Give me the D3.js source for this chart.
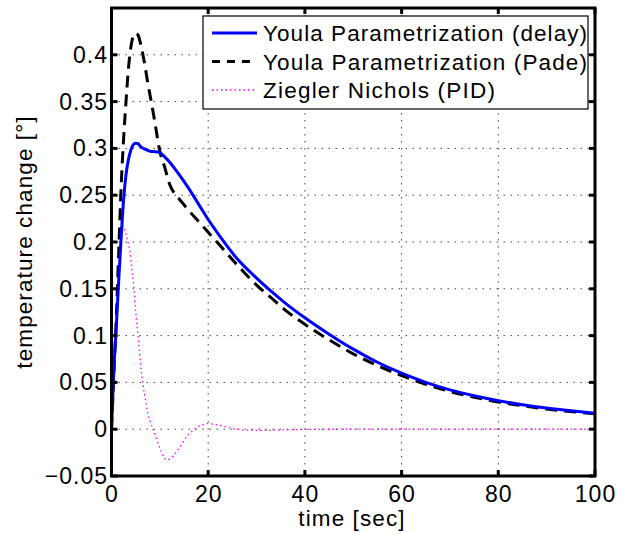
<!DOCTYPE html>
<html>
<head>
<meta charset="utf-8">
<script src="https://cdn.jsdelivr.net/npm/d3@7"></script>
<style>
  body { margin: 0; background: #fff; }
  text { font-family: "Liberation Sans", Arial, sans-serif; fill: #000; }
</style>
</head>
<body>
<svg width="627" height="534"></svg>
<script>
// data
var delayT = [0, 0.5, 1, 1.5, 2, 2.5, 3, 3.5, 4, 4.5, 5, 5.5, 6, 7, 8, 9, 10, 11, 12, 13, 14, 16, 18, 20, 23, 26, 30, 33, 36, 40, 45, 50, 55, 60, 65, 70, 75, 80, 85, 90, 95, 100];
var delayY = [0, 0.065, 0.11, 0.16, 0.205, 0.245, 0.272, 0.288, 0.298, 0.304, 0.3055, 0.305, 0.302, 0.299, 0.297, 0.2965, 0.2955, 0.291, 0.2855, 0.279, 0.272, 0.257, 0.2405, 0.224, 0.202, 0.182, 0.1615, 0.1475, 0.1345, 0.119, 0.1015, 0.0855, 0.0715, 0.0598, 0.05, 0.042, 0.0357, 0.0305, 0.0262, 0.0226, 0.0196, 0.017];

var padeT = [0, 0.5, 1, 1.5, 2, 2.5, 3, 3.5, 4, 4.5, 5, 5.5, 6, 6.5, 7, 7.5, 8, 8.5, 9, 9.5, 10, 11, 12, 13, 14, 16, 18, 20, 23, 26, 30, 33, 36, 40, 45, 50, 55, 60, 65, 70, 75, 80, 85, 90, 95, 100];
var padeY = [0, 0.06, 0.12, 0.19, 0.26, 0.31, 0.35, 0.385, 0.408, 0.42, 0.423, 0.421, 0.412, 0.4, 0.386, 0.37, 0.356, 0.342, 0.327, 0.311, 0.297, 0.28, 0.262, 0.252, 0.246, 0.2335, 0.222, 0.2105, 0.193, 0.1755, 0.154, 0.1405, 0.127, 0.112, 0.0955, 0.0805, 0.068, 0.0572, 0.048, 0.0403, 0.0342, 0.029, 0.025, 0.0215, 0.0188, 0.0165];

var pidT = [0, 0.5, 1, 1.5, 2, 2.4, 2.8, 3.3, 3.8, 4.2, 4.6, 5, 5.5, 6, 6.5, 7, 7.5, 8, 8.6, 9, 10, 11, 11.5, 12, 13, 14, 15, 16, 17, 18, 19, 20, 21, 22, 24, 26, 28, 30, 35, 40, 50, 60, 80, 100];
var pidY = [0, 0.06, 0.115, 0.165, 0.205, 0.217, 0.212, 0.202, 0.19, 0.172, 0.153, 0.126, 0.1, 0.07, 0.048, 0.032, 0.017, 0.008, 0, -0.006, -0.02, -0.031, -0.033, -0.032, -0.027, -0.02, -0.012, -0.005, -0.001, 0.003, 0.005, 0.006, 0.0055, 0.0045, 0.002, 0, -0.001, -0.0012, -0.0008, -0.0003, 0, 0, 0, 0];

var xTicks = [0, 20, 40, 60, 80, 100];
var yTicks = [-0.05, 0, 0.05, 0.1, 0.15, 0.2, 0.25, 0.3, 0.35, 0.4];
var seriesNames = ["Youla Parametrization (delay)", "Youla Parametrization (Pade)", "Ziegler Nichols (PID)"];

var svg = d3.select("svg");
var mLeft = 111.5, mRight = 595, mTop = 8, mBottom = 476;

var x = d3.scaleLinear().domain([0, 100]).range([mLeft, mRight]);
var y = d3.scaleLinear().domain([-0.05, 0.45]).range([mBottom, mTop]);

// grid
var grid = svg.append("g");
grid.selectAll(".gx").data(xTicks.slice(1, -1)).enter().append("line")
    .attr("x1", function(d) { return x(d); }).attr("x2", function(d) { return x(d); })
    .attr("y1", mTop).attr("y2", mBottom)
    .attr("stroke", "#444").attr("stroke-width", 1).attr("stroke-dasharray", "1.5,5.5");
grid.selectAll(".gy").data(yTicks.slice(1)).enter().append("line")
    .attr("x1", mLeft).attr("x2", mRight)
    .attr("y1", function(d) { return y(d); }).attr("y2", function(d) { return y(d); })
    .attr("stroke", "#444").attr("stroke-width", 1).attr("stroke-dasharray", "1.5,5.5");

// curves
var line = d3.line()
    .x(function(d) { return x(d[0]); })
    .y(function(d) { return y(d[1]); })
    .curve(d3.curveMonotoneX);

function pairs(t, v) { return t.map(function(d, i) { return [d, v[i]]; }); }

svg.append("path").datum(pairs(pidT, pidY))
    .attr("d", line).attr("fill", "none")
    .attr("stroke", "#ff00ff").attr("stroke-width", 1.3).attr("stroke-dasharray", "1.5,3");
svg.append("path").datum(pairs(padeT, padeY))
    .attr("d", line).attr("fill", "none")
    .attr("stroke", "#000").attr("stroke-width", 3).attr("stroke-dasharray", "12,7");
svg.append("path").datum(pairs(delayT, delayY))
    .attr("d", line).attr("fill", "none")
    .attr("stroke", "#0000ff").attr("stroke-width", 3);

// ticks on all four sides
var tk = svg.append("g").attr("stroke", "#000").attr("stroke-width", 3);
xTicks.forEach(function(d) {
  tk.append("line").attr("x1", x(d)).attr("x2", x(d)).attr("y1", mBottom).attr("y2", mBottom - 6);
  tk.append("line").attr("x1", x(d)).attr("x2", x(d)).attr("y1", mTop).attr("y2", mTop + 6);
});
yTicks.forEach(function(d) {
  tk.append("line").attr("x1", mLeft).attr("x2", mLeft + 6).attr("y1", y(d)).attr("y2", y(d));
  tk.append("line").attr("x1", mRight).attr("x2", mRight - 6).attr("y1", y(d)).attr("y2", y(d));
});

// box
svg.append("rect")
    .attr("x", mLeft).attr("y", mTop).attr("width", mRight - mLeft).attr("height", mBottom - mTop)
    .attr("fill", "none").attr("stroke", "#000").attr("stroke-width", 3);

// tick labels
svg.append("g").selectAll("text").data(xTicks).enter().append("text")
    .attr("x", function(d) { return x(d) + 0.5; }).attr("y", 502)
    .attr("text-anchor", "middle").attr("font-size", 23).attr("letter-spacing", 1)
    .text(function(d) { return d; });
svg.append("g").selectAll("text").data(yTicks).enter().append("text")
    .attr("x", 108).attr("y", function(d) { return y(d) + 8; })
    .attr("text-anchor", "end").attr("font-size", 23).attr("letter-spacing", 1)
    .text(function(d) { return d < 0 ? "\u2212" + String(-d) : String(d); });

// axis titles
svg.append("text").attr("x", 352).attr("y", 526)
    .attr("text-anchor", "middle").attr("font-size", 22.5).attr("letter-spacing", 1.1)
    .text("time [sec]");
svg.append("text").attr("transform", "translate(32," + ((mTop + mBottom) / 2) + ") rotate(-90)")
    .attr("text-anchor", "middle").attr("font-size", 22.5).attr("letter-spacing", 1.1)
    .text("temperature change [\u00b0]");

// legend
var lg = svg.append("g");
lg.append("rect").attr("x", 203).attr("y", 16).attr("width", 385).attr("height", 93)
    .attr("fill", "#fff").attr("stroke", "#000").attr("stroke-width", 1.2);
var styles = [
  { stroke: "#0000ff", width: 3, dash: null },
  { stroke: "#000", width: 3, dash: "8,7" },
  { stroke: "#ff00ff", width: 1.3, dash: "1.5,3" }
];
var legendLen = [324, 324, 232];
seriesNames.forEach(function(name, i) {
  var cy = 33 + i * 28.5;
  lg.append("line").attr("x1", 212).attr("x2", 257).attr("y1", cy).attr("y2", cy)
      .attr("stroke", styles[i].stroke).attr("stroke-width", styles[i].width)
      .attr("stroke-dasharray", styles[i].dash);
  lg.append("text").attr("x", 263).attr("y", cy + 8).attr("font-size", 22.5)
      .attr("textLength", legendLen[i]).attr("lengthAdjust", "spacing")
      .text(name);
});
</script>
</body>
</html>
